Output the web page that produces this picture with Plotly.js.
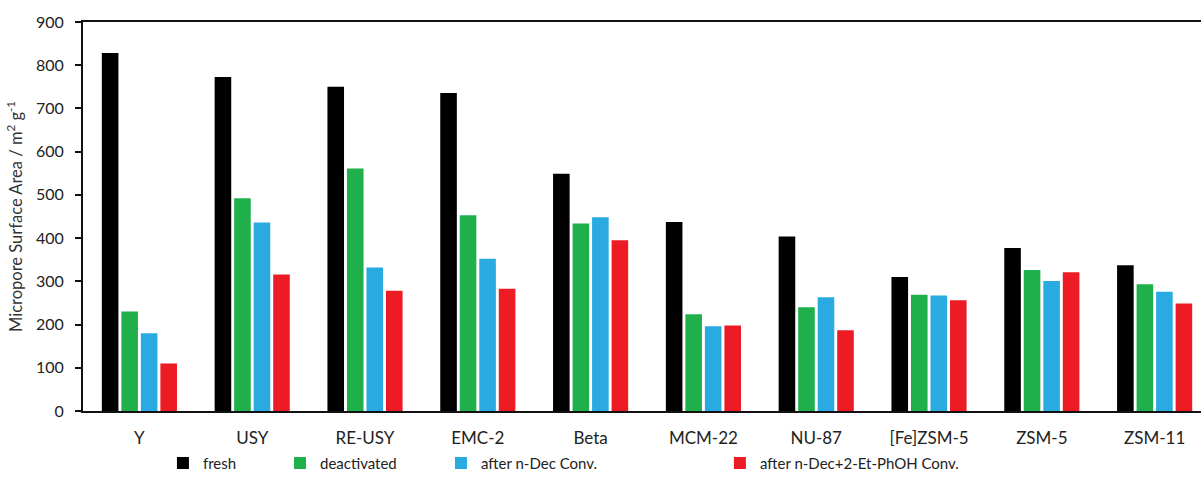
<!DOCTYPE html>
<html>
<head>
<meta charset="utf-8">
<script src="https://cdn.plot.ly/plotly-3.0.1.min.js"></script>
<style>
html,body{margin:0;padding:0;background:#fff;overflow:hidden;}
#chart{width:1201px;height:482px;}
</style>
</head>
<body>
<div id="chart"></div>
<script>
const categories = ["Y","USY","RE-USY","EMC-2","Beta","MCM-22","NU-87","[Fe]ZSM-5","ZSM-5","ZSM-11"];
const fresh = [828,773,750,736,549,437,404,310,377,337];
const deactivated = [230,492,561,453,434,224,240,269,326,293];
const afterDec = [180,436,332,352,448,196,263,267,301,276];
const afterDecPhOH = [110,316,278,283,395,198,187,256,321,249];
const seriesNames = ["fresh","deactivated","after n-Dec Conv.","after n-Dec+2-Et-PhOH Conv."];
const yTicks = [0,100,200,300,400,500,600,700,800,900];

const colors = ["#000000","#1fb04c","#29abe2","#ed1c24"];
const seriesData = [fresh, deactivated, afterDec, afterDecPhOH];
const legendIds = ["legend","legend2","legend3","legend4"];
const FONT = "Lato, 'Open Sans', sans-serif";

const traces = seriesData.map((vals, i) => ({
  type: "bar",
  x: categories,
  y: vals,
  name: seriesNames[i],
  marker: {color: colors[i], line: {width: 0}},
  legend: legendIds[i],
  hoverinfo: "x+y+name"
}));

const legendX = [0.0715, 0.1762, 0.3202, 0.5697];
const legendBase = {
  orientation: "h",
  yanchor: "middle",
  xanchor: "left",
  y: -0.134,
  font: {family: FONT, size: 15, color: "#222"},
  bgcolor: "rgba(0,0,0,0)",
  borderwidth: 0,
  itemwidth: 30
};

const layout = {
  width: 1201,
  height: 482,
  margin: {l: 83, r: 0, t: 22, b: 71},
  paper_bgcolor: "#fff",
  plot_bgcolor: "#fff",
  barmode: "group",
  bargap: 0.308,
  bargroupgap: 0.15,
  font: {family: FONT, color: "#222"},
  xaxis: {
    type: "category",
    range: [-0.5, 9.411],
    showline: true,
    linecolor: "#111",
    linewidth: 2,
    mirror: true,
    ticks: "",
    showgrid: false,
    zeroline: false,
    tickfont: {family: FONT, size: 17, color: "#222"},
    ticklabelstandoff: 11,
    fixedrange: true
  },
  yaxis: {
    range: [0, 900],
    tickvals: yTicks,
    ticktext: yTicks.map(String),
    showline: true,
    linecolor: "#111",
    linewidth: 2,
    ticks: "outside",
    ticklen: 6,
    tickwidth: 2,
    tickcolor: "#111",
    showgrid: false,
    zeroline: false,
    tickfont: {family: FONT, size: 16, color: "#222"},
    ticklabelstandoff: 8,
    title: {
      text: "Micropore Surface Area / m<sup>2</sup> g<sup>-1</sup>",
      font: {family: FONT, size: 16.5, color: "#333"},
      standoff: 9
    },
    fixedrange: true
  },
  showlegend: true
};
legendIds.forEach((id, i) => {
  layout[id] = Object.assign({}, legendBase, {x: legendX[i]});
});

Plotly.newPlot("chart", traces, layout, {displayModeBar: false, staticPlot: true});
</script>
</body>
</html>
